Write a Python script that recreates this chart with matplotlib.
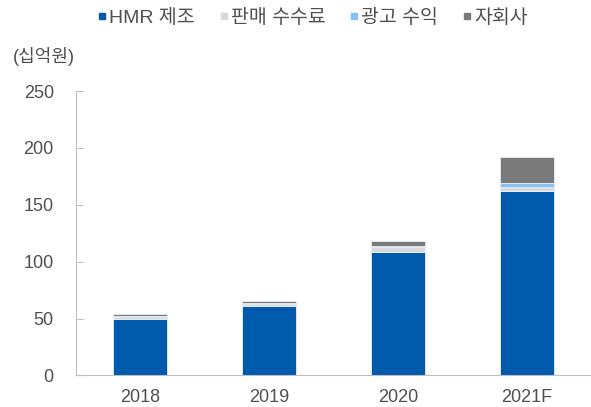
import matplotlib
matplotlib.use("Agg")
import matplotlib.pyplot as plt
from matplotlib.lines import Line2D
import numpy as np

plt.rcParams['font.family'] = ['Liberation Sans', 'Noto Sans CJK KR', 'DejaVu Sans']

years = ["2018", "2019", "2020", "2021F"]
hmr = [50.0, 61.0, 108.5, 162.4]
fee = [1.5, 1.5, 4.0, 3.2]
ad = [1.0, 1.0, 1.3, 3.3]
sub = [1.5, 2.0, 4.4, 23.4]
series_names = ["HMR 제조", "판매 수수료", "광고 수익", "자회사"]
colors = ["#005BAC", "#D9D9D9", "#85C1F5", "#7A7A7A"]
yticks = [0, 50, 100, 150, 200, 250]

fig = plt.figure(figsize=(5.91, 4.07), dpi=100)
ax = fig.add_axes([0.1286, 0.0774, 0.8714, 0.699])

x = np.arange(len(years))
bottom = np.zeros(len(years))
for vals, name, c in zip([hmr, fee, ad, sub], series_names, colors):
    ax.bar(x, vals, width=0.42, bottom=bottom, color=c, label=name,
           edgecolor="#E8EEF6", linewidth=0.6)
    bottom += np.array(vals)

ax.set_xlim(-0.5, 3.5)
ax.set_ylim(0, 250)
ax.set_yticks(yticks)
ax.set_xticks(x)
ax.set_xticklabels(years)
for s in ["top", "right"]:
    ax.spines[s].set_visible(False)
ax.spines["left"].set_color("#BFBFBF")
ax.spines["bottom"].set_color("#BFBFBF")
ax.tick_params(axis="y", direction="in", length=5, color="#BFBFBF",
               labelsize=13, labelcolor="#505050", pad=16)
ax.tick_params(axis="x", length=0, labelsize=13, labelcolor="#505050", pad=10)

fig.text(13/591, 1 - 57/407, "(십억원)", fontsize=13, color="#505050",
         ha="left", va="center")

proxies = [Line2D([], [], linestyle="none", marker="s", markersize=4.6,
                  markerfacecolor=c, markeredgecolor=c) for c in colors]
leg = fig.legend(handles=proxies, labels=series_names, loc="center",
                 bbox_to_anchor=(313/591, 1 - 18/407), ncol=4, frameon=False,
                 fontsize=14, handlelength=0.4, handletextpad=0.15,
                 columnspacing=1.3, labelcolor="#505050")

fig.savefig("out.png", dpi=100)
